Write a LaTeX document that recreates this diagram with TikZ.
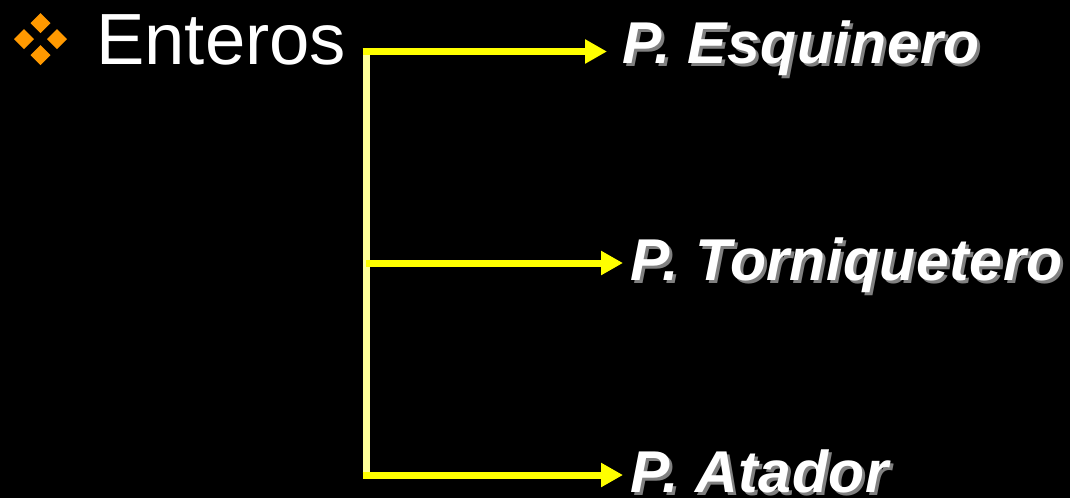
\documentclass[tikz,border=0pt]{standalone}
\usepackage{fontspec}
\setmainfont{Liberation Sans}
\newfontfamily\labelfont[LetterSpace=0.8]{Liberation Sans}
\usetikzlibrary{arrows.meta}
\definecolor{bgblack}{HTML}{000000}
\definecolor{arrowyellow}{HTML}{FFFF00}
\definecolor{paleyellow}{HTML}{FFFF99}
\definecolor{bulletorange}{HTML}{FF9900}
\definecolor{shadowgray}{HTML}{808080}
\newcommand{\shadowtext}[1]{\rlap{\hspace{3pt}\raisebox{-3pt}{\textcolor{shadowgray}{#1}}}#1}
\begin{document}
\begin{tikzpicture}[x=1pt,y=-1pt,
  lbl/.style={inner sep=0pt, anchor=base west, text=white, font=\labelfont\bfseries\itshape\fontsize{59}{62}\selectfont},
  arrowline/.style={draw=arrowyellow, line width=7pt, -{Triangle[length=22pt,width=23pt]}},
  trunk/.style={draw=paleyellow, line width=7pt},
  bulletdia/.style={fill=bulletorange}]
\fill[bgblack] (0,0) rectangle (1070,498);
\useasboundingbox (0,0) rectangle (1070,498);
% bullet
\foreach \cx/\cy in {40.5/23, 24/39, 57/39, 40.5/55}{
  \fill[bulletdia] (\cx-10,\cy) -- (\cx,\cy-10) -- (\cx+10,\cy) -- (\cx,\cy+10) -- cycle;
}
\node[inner sep=0pt, anchor=base west, text=white, font=\fontsize{72.5}{76}\selectfont] (enteros) at (96,64) {Enteros};
% coordinates
\coordinate (top) at (366,48);
\coordinate (bot) at (366,474);
\coordinate (j1) at (366,51.5);
\coordinate (j2) at (366,263);
\coordinate (j3) at (366,475);
\coordinate (t1) at (607,51.5);
\coordinate (t2) at (623,263);
\coordinate (t3) at (623,475);
\draw[trunk] (top) -- (bot);
\draw[arrowline] ([xshift=-3.5pt]j1) -- (t1);
\draw[arrowline] (j2) -- (t2);
\draw[arrowline] ([xshift=-3.5pt]j3) -- (t3);
\node[lbl] (esq) at (622,63) {\shadowtext{P. Esquinero}};
\node[lbl] (tor) at (630,280) {\shadowtext{P. Torniquetero}};
\node[lbl] (ata) at (630,492) {\shadowtext{P. Atador}};
\end{tikzpicture}
\end{document}
